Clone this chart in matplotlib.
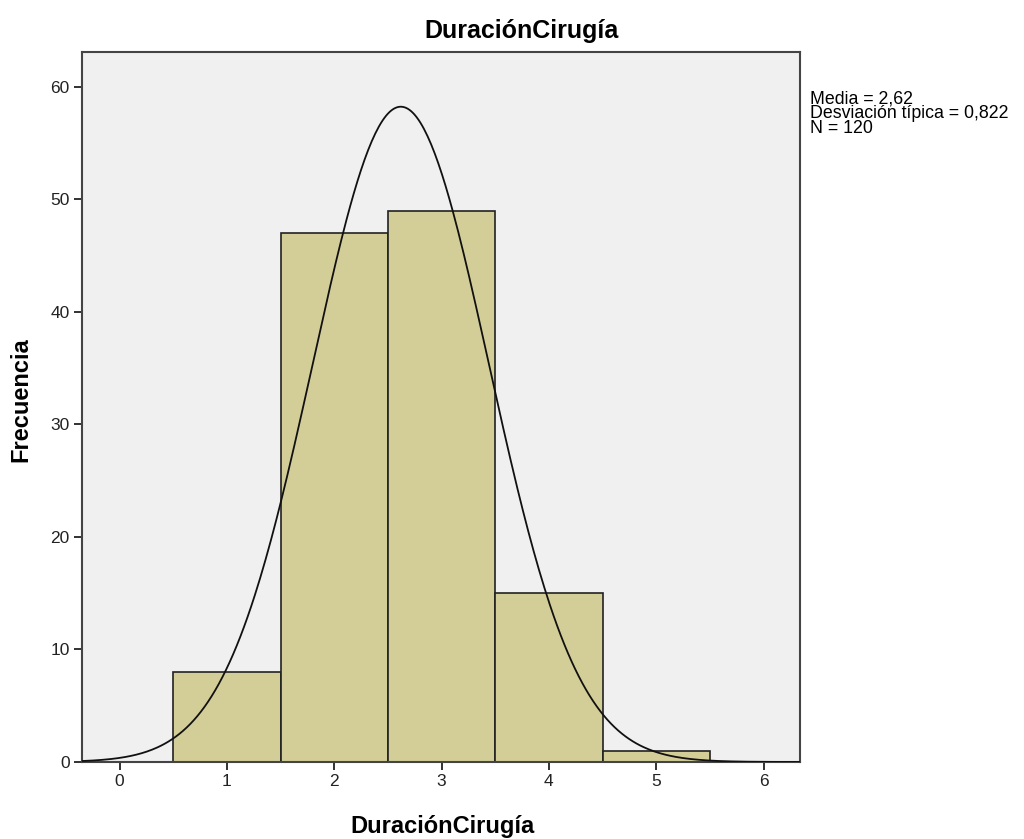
import numpy as np
import matplotlib.pyplot as plt

plt.rcParams['font.family'] = ['Liberation Sans', 'DejaVu Sans']

# histogram bins (centres) and frequencies
bin_centers = [1, 2, 3, 4, 5]
frequencies = [8, 47, 49, 15, 1]
bin_width = 1.0

media = 2.62
desv = 0.822
n = 120

fig = plt.figure(figsize=(10.24, 8.39), dpi=100)
ax = fig.add_axes([0.0801, 0.0918, 0.7012, 0.8462])
ax.set_facecolor('#f0f0f0')

ax.bar(bin_centers, frequencies, width=bin_width, color='#d3ce97',
       edgecolor='#222222', linewidth=1.2, zorder=2)

# normal curve scaled to counts
xs = np.linspace(-0.35, 6.34, 400)
ys = n * bin_width / (desv * np.sqrt(2 * np.pi)) * np.exp(-0.5 * ((xs - media) / desv) ** 2)
ax.plot(xs, ys, color='#111111', linewidth=1.3, zorder=3)

ax.set_xlim(-0.35, 6.34)
ax.set_ylim(0, 63.1)
ax.set_xticks(range(0, 7))
ax.set_yticks(range(0, 61, 10))
ax.tick_params(direction='out', length=6, width=1.3, labelsize=12.5,
               colors='#222222', pad=3)
for s in ax.spines.values():
    s.set_linewidth(1.5)
    s.set_color('#444444')

fig.text(522 / 1024, 1 - 31 / 839, 'DuraciónCirugía', ha='center', va='center',
         fontsize=18, fontweight='bold')
fig.text(443 / 1024, 1 - 827 / 839, 'DuraciónCirugía', ha='center', va='center',
         fontsize=17, fontweight='bold')
fig.text(21 / 1024, 1 - 400 / 839, 'Frecuencia', ha='center', va='center',
         rotation=90, fontsize=17, fontweight='bold')

fig.text(810 / 1024, 1 - 90 / 839,
         f'Media = 2,62\nDesviación típica = 0,822\nN = {n}',
         ha='left', va='top', fontsize=12.8, linespacing=0.86)

fig.savefig('out.png', dpi=100)
